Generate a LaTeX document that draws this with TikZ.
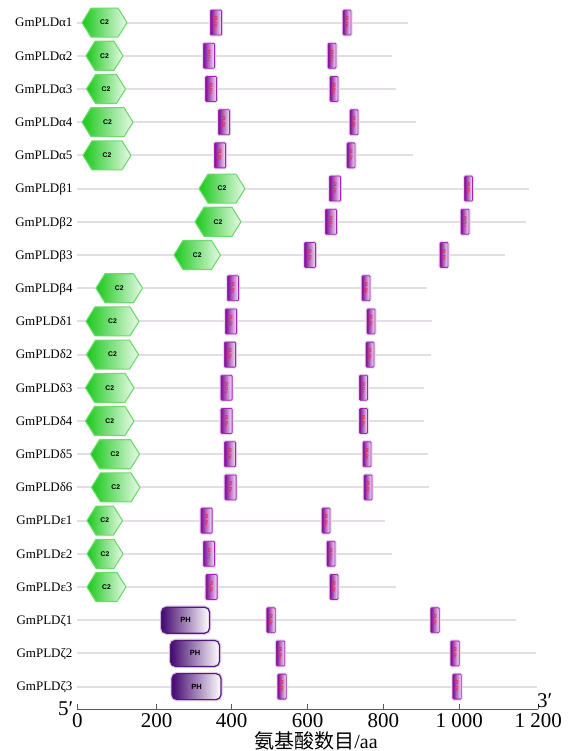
\documentclass[tikz,border=0pt]{standalone}
\usepackage{fontspec}
\setmainfont{Liberation Serif}
\newfontfamily\cjkfont{Noto Sans CJK SC}
\newfontfamily\domfont{Liberation Sans}
\definecolor{bbgray}{RGB}{226,222,228}
\definecolor{ctwoL}{RGB}{25,200,25}
\definecolor{ctwoR}{RGB}{232,250,232}
\definecolor{ctwoB}{RGB}{110,218,110}
\definecolor{pldL}{RGB}{128,10,150}
\definecolor{pldR}{RGB}{250,230,250}
\definecolor{pldB}{RGB}{155,40,175}
\definecolor{pldH}{RGB}{236,218,240}
\definecolor{pldT}{RGB}{232,40,64}
\definecolor{phL}{RGB}{68,8,112}
\definecolor{phM}{RGB}{150,110,182}
\definecolor{phB}{RGB}{84,24,124}
\definecolor{phH}{RGB}{222,208,234}
\definecolor{axgray}{RGB}{90,90,90}
\tikzset{
  genelab/.style={anchor=base east, inner sep=0pt, font=\fontsize{13}{13}\selectfont},
  backbone/.style={draw=bbgray, line width=2pt},
  ctwoshade/.style={left color=ctwoL, right color=ctwoR, draw=ctwoB, line width=1.1pt, line join=round},
  ctwotext/.style={inner sep=0pt, font=\domfont\bfseries\fontsize{6.8}{6.8}\selectfont},
  pldhalo/.style={draw=pldH, line width=3pt, rounded corners=1pt},
  pldshade/.style={left color=pldL, right color=pldR, draw=pldB, line width=0.8pt, rounded corners=1pt},
  pldtext/.style={inner sep=0pt, rotate=-90, text=pldT, font=\domfont\bfseries\fontsize{4.5}{4.5}\selectfont},
  phhalo/.style={draw=phH, line width=3.5pt, rounded corners=5pt},
  phshade/.style={left color=phL, middle color=phM, right color=white, draw=phB, line width=1.2pt, rounded corners=5pt},
  phtext/.style={inner sep=0pt, font=\domfont\bfseries\fontsize{7.5}{7.5}\selectfont},
  axisline/.style={draw=axgray, line width=0.8pt},
  ticklab/.style={anchor=base, inner sep=0pt, font=\fontsize{21}{21}\selectfont},
}
\newcommand\ctwodom[4]{%
  \shadedraw[ctwoshade] (#2,#4) -- (#2+9,#4-14.5) -- (#3-9,#4-14.5) -- (#3,#4) -- (#3-9,#4+14.5) -- (#2+9,#4+14.5) -- cycle;
  \node[ctwotext] (#1) at ({(#2+#3)/2},#4) {C2};}
\newcommand\pldcdom[4]{%
  \draw[pldhalo] (#2-#4,#3-12.5) rectangle (#2+#4,#3+12.5);
  \shadedraw[pldshade] (#2-#4,#3-12.5) rectangle (#2+#4,#3+12.5);
  \node[pldtext] (#1) at (#2,#3) {PLDc};}
\newcommand\phdom[4]{%
  \draw[phhalo] (#2+1.5,#4-13) rectangle (#3-1.5,#4+13);
  \shadedraw[phshade] (#2+1.5,#4-13) rectangle (#3-1.5,#4+13);
  \node[phtext] (#1) at ({(#2+#3)/2},#4) {PH};}
\begin{document}
\begin{tikzpicture}[x=1pt,y=-1pt]
\useasboundingbox[fill=white] (0,0) rectangle (569,751);
% rows with C2 domain
\foreach \i/\lab/\e/\l/\r/\pa/\pb in {
  1/α1/408/82/127/216/347,
  2/α2/392/86/123/209/332,
  3/α3/396/86.5/125.5/211/334,
  4/α4/415.5/82/133/224/354,
  5/α5/413/83/131/220/351,
  6/β1/529/199/245/335/468.5,
  7/β2/525.5/195/241/331/465,
  8/β3/505/174/220.5/310/444,
  9/β4/426.5/96/142.5/233/366,
  10/δ1/431.5/86/139/231/371,
  11/δ2/430.5/86.5/138.5/230/370,
  12/δ3/424/85.5/134/226.5/363.5,
  13/δ4/424/85.5/134/226.5/363.5,
  14/δ5/428/90.5/139.5/230/367,
  15/δ6/428.5/91.5/140/230.5/368,
  16/ε1/385/87/122.5/206.5/326,
  17/ε2/392/87/123/209/331,
  18/ε3/396/87/126/211.5/334}{
  \pgfmathsetmacro\y{22.6+33.2*(\i-1)}
  \node[genelab] (lab\i) at (72.7,\y+4.3) {GmPLD\lab};
  \coordinate (st\i) at (77,\y);
  \coordinate (en\i) at (\e,\y);
  \draw[backbone] (st\i) -- (en\i);
  \ctwodom{cd\i}{\l}{\r}{\y}
  \pldcdom{pa\i}{\pa}{\y}{5.6}
  \pldcdom{pb\i}{\pb}{\y}{4}
}
% rows with PH domain
\foreach \i/\lab/\e/\l/\r/\pa/\pb in {
  19/ζ1/516/160/211/271/435,
  20/ζ2/535.5/169/221/280.5/455,
  21/ζ3/536.5/170.5/222.5/282/457}{
  \pgfmathsetmacro\y{22.6+33.2*(\i-1)}
  \node[genelab] (lab\i) at (72.7,\y+4.3) {GmPLD\lab};
  \coordinate (st\i) at (77,\y);
  \coordinate (en\i) at (\e,\y);
  \draw[backbone] (st\i) -- (en\i);
  \phdom{ph\i}{\l}{\r}{\y}
  \pldcdom{pa\i}{\pa}{\y}{4.2}
  \pldcdom{pb\i}{\pb}{\y}{4.2}
}
% axis
\coordinate (ax0) at (77.3,709);
\coordinate (ax1) at (538.3,709);
\draw[axisline] (ax0) -- (ax1);
\foreach \k/\x/\t in {1/77.3/0, 2/156.7/200, 3/231.7/400, 4/307.7/600, 5/383.3/800, 6/459.3/1~000, 7/538.3/1~200}{
  \draw[axisline] (\x,709) -- (\x,703.5);
  \node[ticklab] (tk\k) at (\x,727) {\t};
}
\node[anchor=base east, inner sep=0pt, font=\fontsize{21}{21}\selectfont] (five) at (73.5,715) {5′};
\node[anchor=base west, inner sep=0pt, font=\fontsize{21}{21}\selectfont] (three) at (537,707.5) {3′};
\node[anchor=base, inner sep=0pt, font=\fontsize{20}{20}\selectfont] (xlab) at (316,748) {{\cjkfont 氨基酸数目}/aa};
\end{tikzpicture}
\end{document}
